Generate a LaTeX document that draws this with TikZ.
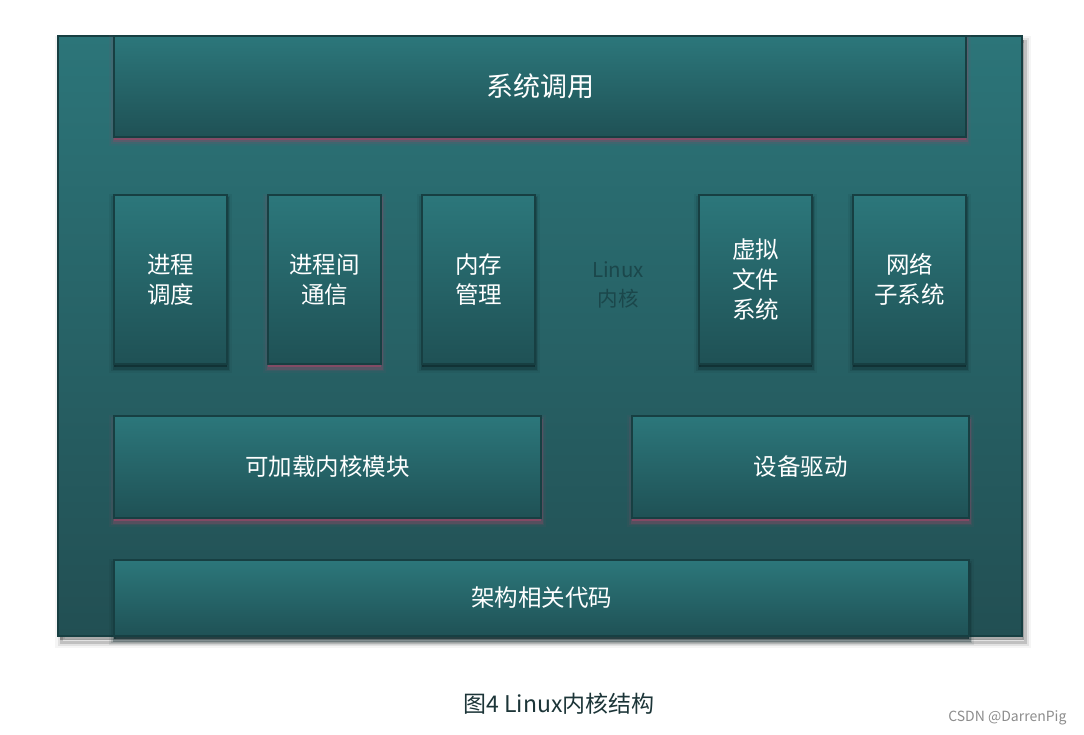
\documentclass[tikz,border=0pt]{standalone}
\usepackage{fontspec}
\setmainfont{Noto Sans CJK SC}
\setsansfont{Noto Sans CJK SC}
\usetikzlibrary{calc}
\definecolor{boxtop}{HTML}{2C777B}
\definecolor{boxbot}{HTML}{1F5155}
\definecolor{outtop}{HTML}{2C7579}
\definecolor{outbot}{HTML}{224F53}
\definecolor{edge}{HTML}{173F42}
\definecolor{pinksh}{HTML}{8A4A66}
\definecolor{darksh}{HTML}{0E2A2D}
\definecolor{kerneltxt}{HTML}{1B474B}
\definecolor{captxt}{HTML}{1C3538}
\tikzset{
  kbox/.style={draw=edge, line width=1.4pt, top color=boxtop, bottom color=boxbot,
    text=white, align=center, inner sep=0pt,
    font=\fontsize{23.5}{30}\selectfont},
  pinkshadow/.style={
    preaction={draw=pinksh, line width=10pt, draw opacity=0.08, transform canvas={yshift=-4pt}},
    preaction={draw=pinksh, line width=6pt, draw opacity=0.15, transform canvas={yshift=-4pt}},
    preaction={draw=pinksh, line width=3pt, draw opacity=0.35, transform canvas={yshift=-4pt}},
    preaction={fill=pinksh, fill opacity=0.9, transform canvas={yshift=-3pt}}},
  darkshadow/.style={
    preaction={draw=darksh, line width=10pt, draw opacity=0.08, transform canvas={yshift=-4pt}},
    preaction={draw=darksh, line width=6pt, draw opacity=0.15, transform canvas={yshift=-4pt}},
    preaction={draw=darksh, line width=3pt, draw opacity=0.3, transform canvas={yshift=-4pt}},
    preaction={fill=darksh, fill opacity=0.8, transform canvas={yshift=-3pt}}},
  outershadow/.style={
    preaction={draw=black, line width=12pt, draw opacity=0.04, transform canvas={xshift=3pt,yshift=-6pt}},
    preaction={draw=black, line width=7pt, draw opacity=0.08, transform canvas={xshift=3pt,yshift=-6pt}},
    preaction={draw=black, line width=3pt, draw opacity=0.15, transform canvas={xshift=3pt,yshift=-6pt}},
    preaction={fill=black, fill opacity=0.3, transform canvas={xshift=2pt,yshift=-4pt}}},
}
\begin{document}
\begin{tikzpicture}[x=1pt,y=-1pt]
\useasboundingbox (0,0) rectangle (1084,735);
% outer frame
\node[outershadow, draw=edge, line width=1.4pt, top color=outtop, bottom color=outbot,
  minimum width=964pt, minimum height=600pt, inner sep=0pt] (kernel) at (540,336) {};
\node[text=kerneltxt, align=center, font=\fontsize{20.5}{29}\selectfont] (klabel) at (618,285) {Linux\\内核};
% top
\node[kbox, pinkshadow, minimum width=852pt, minimum height=101pt, font=\fontsize{27}{30}\selectfont] (sys) at (540,86.5) {系统调用};
% middle row
\node[kbox, darkshadow, minimum width=113pt, minimum height=169pt] (sched) at (170.5,279.5) {进程\\调度};
\node[kbox, pinkshadow, minimum width=113pt, minimum height=169pt] (ipc) at (324.5,279.5) {进程间\\通信};
\node[kbox, darkshadow, minimum width=113pt, minimum height=169pt] (mem) at (478.5,279.5) {内存\\管理};
\node[kbox, darkshadow, minimum width=113pt, minimum height=169pt] (vfs) at (755.5,279.5) {虚拟\\文件\\系统};
\node[kbox, darkshadow, minimum width=113pt, minimum height=169pt] (net) at (909.5,279.5) {网络\\子系统};
% lower row
\node[kbox, pinkshadow, minimum width=427pt, minimum height=102pt] (mod) at (327.5,467) {可加载内核模块};
\node[kbox, pinkshadow, minimum width=337pt, minimum height=102pt] (drv) at (800.5,467) {设备驱动};
% arch
\node[kbox, darkshadow, minimum width=855pt, minimum height=76pt] (arch) at (541.5,598) {架构相关代码};
% caption
\node[text=captxt, font=\fontsize{23}{26}\selectfont] (cap) at (559,704) {图4 Linux内核结构};
\node[text=black!45, font=\fontsize{14}{16}\selectfont, anchor=east] (wm) at (1070,718) {CSDN @DarrenPig};
\end{tikzpicture}
\end{document}
